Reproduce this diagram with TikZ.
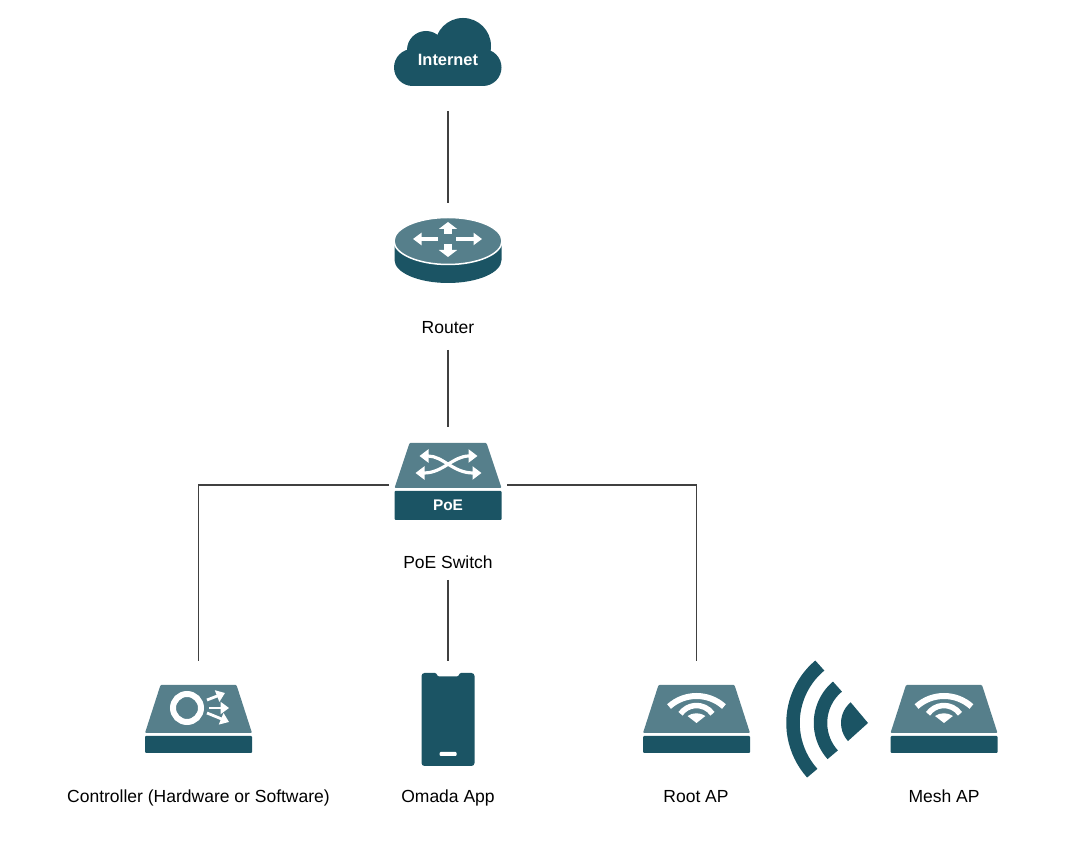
\documentclass[tikz,border=0pt]{standalone}
\usepackage{fontspec}
\setmainfont{Liberation Sans}
\usetikzlibrary{arrows.meta}
\definecolor{darkteal}{HTML}{1B5464}
\definecolor{lightteal}{HTML}{567F8B}
\tikzset{
  iconbox/.style={inner sep=0,outer sep=0,minimum width=107pt,minimum height=118pt},
  devlabel/.style={inner sep=0,outer sep=0,text height=15pt,text depth=1pt,font=\fontsize{17.5}{20}\selectfont},
  link/.style={draw=black!75,line width=1.1pt},
  whitearrow/.style={draw=white,line width=3.2pt,-{Triangle[length=8.5pt,width=12pt]}},
  bigarrow/.style={draw=white,line width=8pt,-{Triangle[length=7pt,width=18pt]}},
  wave/.style={draw=white,line width=6pt},
  signal/.style={draw=darkteal,line width=13.5pt},
  trapezoidicon/.pic={
    \fill[lightteal,rounded corners=1pt] (-53.5,-13) -- (-38,35) -- (38,35) -- (53.5,-13) -- cycle;
    \fill[darkteal,rounded corners=1pt] (-53.5,-16) rectangle (53.5,-33);
  },
  wifiicon/.pic={
    \draw[wave] (0,-17) ++(48:41) arc[start angle=48,end angle=132,radius=41pt];
    \draw[wave,line width=5.5pt] (0,-5) ++(35:19.5) arc[start angle=35,end angle=145,radius=19.5pt];
    \fill[white] (0,-3) -- (-9,4) arc[start angle=124,end angle=56,radius=16pt] -- cycle;
  }
}

\begin{document}
\begin{tikzpicture}[x=1pt,y=1pt]
    \useasboundingbox (0,0) rectangle (1089,845);

    % Cloud
    \begin{scope}[shift={(448,785)},darkteal]
      \fill (-35.5,-7.5) circle [radius=18.5];
      \fill (35,-7.5) circle [radius=18.5];
      \fill (-22,10) circle [radius=19];
      \fill (15,14) circle [radius=28];
      \fill (-35.5,-26) rectangle (35,0);
    \end{scope}
    \node (internet) [iconbox,minimum height=102pt,text=white,font=\bfseries\fontsize{16.4}{20}\selectfont] at (448,785) {Internet};

    % Router
    \node (router) [iconbox,minimum height=76pt] at (448,604) {};
    \begin{scope}[shift={(router.center)}]
      \fill[darkteal] (-53.5,-4) -- (-53.5,-19) arc[start angle=180,end angle=360,x radius=53.5pt,y radius=23pt] -- (53.5,-4) -- cycle;
      \draw[white,fill=lightteal,line width=1.5pt] (0,0) ellipse [x radius=54,y radius=23.5];
      \draw[bigarrow] (0,7) -- (0,19);
      \draw[bigarrow] (0,-3) -- (0,-16);
      \draw[whitearrow] (-10,2) -- (-35,2);
      \draw[whitearrow] (8,2) -- (34,2);
    \end{scope}
    \node (routerlabel) [devlabel,minimum height=46pt] at (448,518) {Router};

    % PoE switch
    \node (switch) [iconbox,minimum width=118pt,minimum height=116pt] at (448,360) {};
    \begin{scope}[shift={(switch.center)}]
      \fill[lightteal,rounded corners=1pt] (-53.5,-3) -- (-38.5,42) -- (38.5,42) -- (53.5,-3) -- cycle;
      \fill[darkteal,rounded corners=1pt] (-53.5,-6) rectangle (53.5,-35);
      \draw[whitearrow,{Triangle[length=9pt,width=13pt]}-{Triangle[length=9pt,width=13pt]}]
        (-28.5,29) .. controls (-5,29) and (5,12) .. (33.5,12);
      \draw[whitearrow,{Triangle[length=9pt,width=13pt]}-{Triangle[length=9pt,width=13pt]}]
        (29.5,29) .. controls (5,29) and (-5,12) .. (-32.5,12);
      \node (poetext) [text=white,inner sep=0,font=\bfseries\fontsize{15.4}{18}\selectfont] at (0,-20) {PoE};
    \end{scope}
    \node (switchlabel) [devlabel,minimum height=36pt] at (448,283) {PoE Switch};

    % Bottom row
    \node (controller) [iconbox] at (198.5,125) {};
    \pic at (controller.center) {trapezoidicon};
    \begin{scope}[shift={(controller.center)}]
      \draw[white,line width=6pt] (-11.5,12) circle [radius=14];
      \draw[whitearrow,line width=2.8pt] (8.5,20) -- (26.5,27);
      \draw[whitearrow,line width=2.8pt] (10.5,12) -- (30.5,12);
      \draw[whitearrow,line width=2.8pt] (8.5,7) -- (30.5,-2);
    \end{scope}
    \node [devlabel] (controllerlabel) at (198.5,49) {Controller (Hardware or Software)};

    \node (phone) [iconbox] at (448,125) {};
    \begin{scope}[shift={(phone.center)}]
      \fill[darkteal,rounded corners=3pt] (-26.5,47) [rounded corners=1pt] -- (-12,47) -- (-10,43.5) -- (10,43.5) -- (12,47) [rounded corners=3pt] -- (26.5,47)
        -- (26.5,-46) -- (-26.5,-46) -- cycle;
      \fill[white,rounded corners=1pt] (-8.5,-32) rectangle (8.5,-36);
    \end{scope}
    \node [devlabel] (phonelabel) at (448,49) {Omada App};

    \node (rootap) [iconbox] at (696.5,125) {};
    \pic at (rootap.center) {trapezoidicon};
    \pic at (rootap.center) {wifiicon};
    \node [devlabel] (rootaplabel) at (696,49) {Root AP};

    \node (meshap) [iconbox] at (944,125) {};
    \pic at (meshap.center) {trapezoidicon};
    \pic at (meshap.center) {wifiicon};
    \node [devlabel] (meshaplabel) at (944,49) {Mesh AP};

    % Signal between the APs
    \draw[signal] (868,122) ++(130:75) arc[start angle=130,end angle=222,radius=75pt];
    \draw[signal] (868,122) ++(130:47.5) arc[start angle=130,end angle=222,radius=47.5pt];
    \fill[darkteal] (868,122) -- ++(130:27) arc[start angle=130,end angle=222,radius=27pt] -- cycle;

    % Links
    \draw[link] (internet.south) -- (router.north);
    \draw[link] (routerlabel.south) -- (switch.north);
    \draw[link] (switch.west) -| (controller.north);
    \draw[link] (switch.east) -| (rootap.north);
    \draw[link] (switchlabel.south) -- (phone.north);

\end{tikzpicture}
\end{document}
